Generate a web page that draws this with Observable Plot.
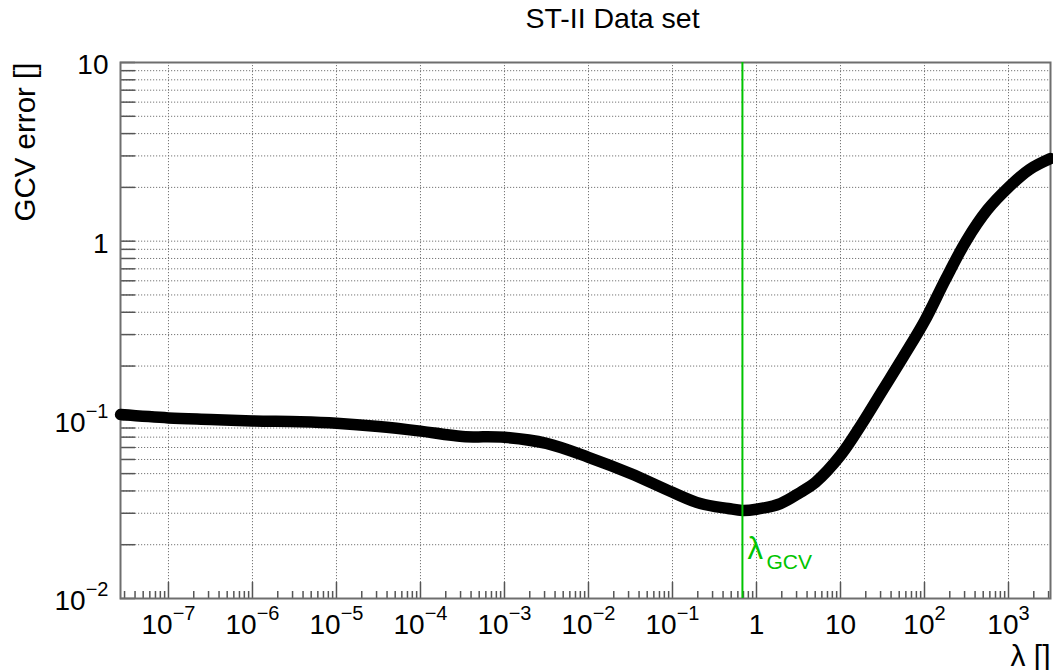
<!DOCTYPE html>
<html>
<head>
<meta charset="utf-8">
<script src="https://cdn.jsdelivr.net/npm/d3@7"></script>
<script src="https://cdn.jsdelivr.net/npm/@observablehq/plot@0.6"></script>
<style>
  html, body { margin: 0; padding: 0; background: white; }
</style>
</head>
<body>
<div id="chart"></div>
<script>
// ---- data ----
const lambda = [2.69e-8, 1e-7, 3.16e-7, 1e-6, 3.7e-6, 1e-5, 3.16e-5, 1e-4, 3.16e-4, 1e-3, 3.16e-3, 1e-2, 3.16e-2, 0.1, 0.215, 0.46, 0.68, 1, 1.93, 3.34, 5.04, 10, 17.8, 31.6, 56.2, 100, 178, 316, 562, 1000, 1778, 3162];
const gcvError = [0.107, 0.1025, 0.1005, 0.0986, 0.0975, 0.0957, 0.0918, 0.0865, 0.0807, 0.0798, 0.0738, 0.0617, 0.0501, 0.0393, 0.0340, 0.0319, 0.0311, 0.0316, 0.0340, 0.0393, 0.0447, 0.0632, 0.0943, 0.146, 0.226, 0.356, 0.611, 1.01, 1.50, 2.0, 2.52, 2.9];
const lambdaGCV = 0.68;

const xMajor = [1e-7, 1e-6, 1e-5, 1e-4, 1e-3, 1e-2, 1e-1, 1, 10, 100, 1000];
const xLabels = ["10^−7", "10^−6", "10^−5", "10^−4", "10^−3", "10^−2", "10^−1", "1", "10", "10^2", "10^3"];
const yMajor = [0.01, 0.1, 1, 10];
const yLabels = ["10^−2", "10^−1", "1", "10"];
const xDomain = [2.685e-8, 3162];
const yDomain = [0.01, 10];

const title = "ST-II Data set";
const xTitle = "λ []";
const yTitle = "GCV error []";

// minor tick positions (2..9 per decade)
const xMinor = [];
for (let e = -8; e <= 3; e++) for (let m = 2; m <= 9; m++) {
  const v = m * Math.pow(10, e);
  if (v >= xDomain[0] && v <= xDomain[1]) xMinor.push(v);
}
const yMinor = [];
for (let e = -2; e <= 0; e++) for (let m = 2; m <= 9; m++) yMinor.push(m * Math.pow(10, e));
const yAll = yMajor.concat(yMinor);

const table = lambda.map((l, i) => ({lambda: l, gcv: gcvError[i]}));

const W = 1053, H = 670, ML = 120, MR = 3, MT = 62, MB = 72;
const PW = W - ML - MR, PH = H - MT - MB;
const green = "#00c400";
const font = "Liberation Sans, Arial, Helvetica, sans-serif";

const chart = Plot.plot({
  width: W, height: H,
  marginLeft: ML, marginRight: MR, marginTop: MT, marginBottom: MB,
  style: {fontFamily: font, background: "white", overflow: "visible"},
  x: {type: "log", domain: xDomain},
  y: {type: "log", domain: yDomain},
  marks: [
    Plot.gridY(yAll, {stroke: "#777", strokeOpacity: 1, strokeWidth: 1, strokeDasharray: "1.2,1.8"}),
    Plot.gridX(xMajor, {stroke: "#777", strokeOpacity: 1, strokeWidth: 1, strokeDasharray: "1.2,1.8"}),
    Plot.ruleX(xMajor, {x: d => d, insetTop: PH - 16, stroke: "#555", strokeWidth: 1.5}),
    Plot.ruleX(xMinor, {x: d => d, insetTop: PH - 7, stroke: "#555", strokeWidth: 1.5}),
    Plot.ruleY(yAll, {y: d => d, insetRight: PW - 15, stroke: "#555", strokeWidth: 1.5}),
    Plot.frame({stroke: "#6e6e6e", strokeWidth: 2}),
    Plot.axisX(xMajor, {tickSize: 0, tickPadding: 16, label: null, fontSize: 28, fill: "black",
      tickFormat: d => xLabels[xMajor.indexOf(d)]}),
    Plot.axisY(yMajor, {tickSize: 0, tickPadding: 12, label: null, fontSize: 28, fill: "black", dy: 3,
      tickFormat: d => yLabels[yMajor.indexOf(d)]}),
    Plot.line(table, {x: "lambda", y: "gcv", stroke: "black", strokeWidth: 11.5, curve: "catmull-rom", strokeLinejoin: "round"}),
    Plot.ruleX([lambdaGCV], {x: d => d, stroke: green, strokeWidth: 2}),
    Plot.text([lambdaGCV], {x: d => d, frameAnchor: "bottom", text: () => "λ", dx: 5, dy: -40,
      textAnchor: "start", lineAnchor: "bottom", fontSize: 31, fill: green}),
    Plot.text([lambdaGCV], {x: d => d, frameAnchor: "bottom", text: () => "GCV", dx: 24, dy: -30,
      textAnchor: "start", lineAnchor: "bottom", fontSize: 21, fill: green}),
    Plot.text([title], {text: d => d, frameAnchor: "top", dx: 27, dy: -35, lineAnchor: "bottom", fontSize: 28.5, fill: "black"}),
    Plot.text([xTitle], {text: d => d, frameAnchor: "bottom-right", dx: 0, dy: 67, textAnchor: "end", lineAnchor: "bottom", fontSize: 30, fill: "black"}),
    Plot.text([yTitle], {text: d => d, frameAnchor: "top-left", dx: -86, dy: 0, rotate: -90, textAnchor: "end", lineAnchor: "bottom", fontSize: 29.5, fill: "black"})
  ]
});

// superscript tick labels written as "10^k"
d3.select(chart).selectAll("text").each(function () {
  const t = this.textContent;
  const m = t.match(/^10\^(.+)$/);
  if (!m) return;
  const sel = d3.select(this);
  sel.text(null);
  sel.append("tspan").text("10");
  sel.append("tspan").attr("dy", "-14").attr("font-size", "20").text(m[1]);
});

document.getElementById("chart").appendChild(chart);
</script>
</body>
</html>
